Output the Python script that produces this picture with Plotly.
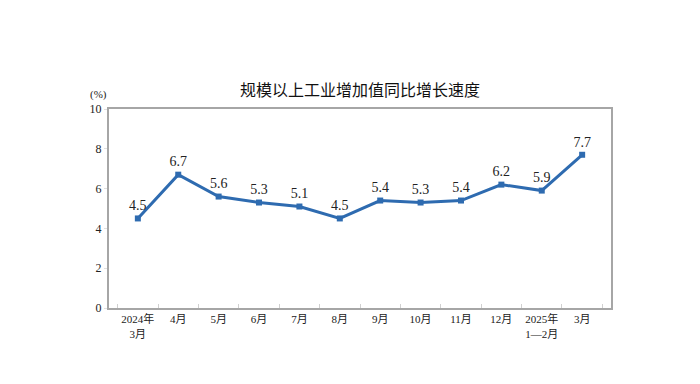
import plotly.graph_objects as go

categories = ["2024年<br>3月", "4月", "5月", "6月", "7月", "8月", "9月", "10月", "11月", "12月", "2025年<br>1—2月", "3月"]
values = [4.5, 6.7, 5.6, 5.3, 5.1, 4.5, 5.4, 5.3, 5.4, 6.2, 5.9, 7.7]
y_ticks = [0, 2, 4, 6, 8, 10]

serif = "Liberation Serif, Times New Roman, Noto Sans CJK SC, serif"

L, R, T, B = 101, 97, 101, 84
W, H = 700, 384
pw, ph = W - L - R, H - T - B

fig = go.Figure()
fig.add_trace(go.Scatter(
    x=categories, y=values,
    mode="lines+markers+text",
    line=dict(color="#2E6BB0", width=3),
    marker=dict(symbol="square", size=6, color="#2E6BB0"),
    text=[f"{v:.1f}" for v in values],
    textposition="top center",
    textfont=dict(family=serif, size=14, color="#222222"),
    cliponaxis=False,
    hoverinfo="skip",
))

fig.update_layout(
    width=W, height=H,
    margin=dict(l=L, r=R, t=T, b=B, autoexpand=False),
    paper_bgcolor="white", plot_bgcolor="white",
    showlegend=False,
    title=dict(text="规模以上工业增加值同比增长速度", x=352 / W, xanchor="center",
               y=1 - 82 / H, yanchor="middle",
               font=dict(family="Noto Sans CJK SC, sans-serif", size=16, color="#111111")),
    annotations=[dict(text="(%)", xref="paper", yref="paper",
                      x=(90 - L) / pw, y=(H - B - 86) / ph,
                      xanchor="center", yanchor="middle", showarrow=False,
                      font=dict(family=serif, size=11, color="#222222"))],
)

fig.update_xaxes(
    type="category",
    showgrid=False, automargin=False, tickangle=0,
    showline=True, linecolor="#A6A6A6", linewidth=2, mirror=True,
    ticks="inside", tickson="boundaries", ticklen=4, tickcolor="#D0D0D0",
    tickfont=dict(family=serif, size=11, color="#222222"),
    fixedrange=True,
)
fig.update_yaxes(
    range=[0, 10], tickvals=y_ticks, automargin=False,
    showgrid=False, zeroline=False,
    showline=True, linecolor="#A6A6A6", linewidth=2, mirror=True,
    ticks="outside", ticklen=3, tickcolor="#E0E0E0",
    tickfont=dict(family=serif, size=12, color="#222222"),
    fixedrange=True,
)

fig.write_html("out.html")
